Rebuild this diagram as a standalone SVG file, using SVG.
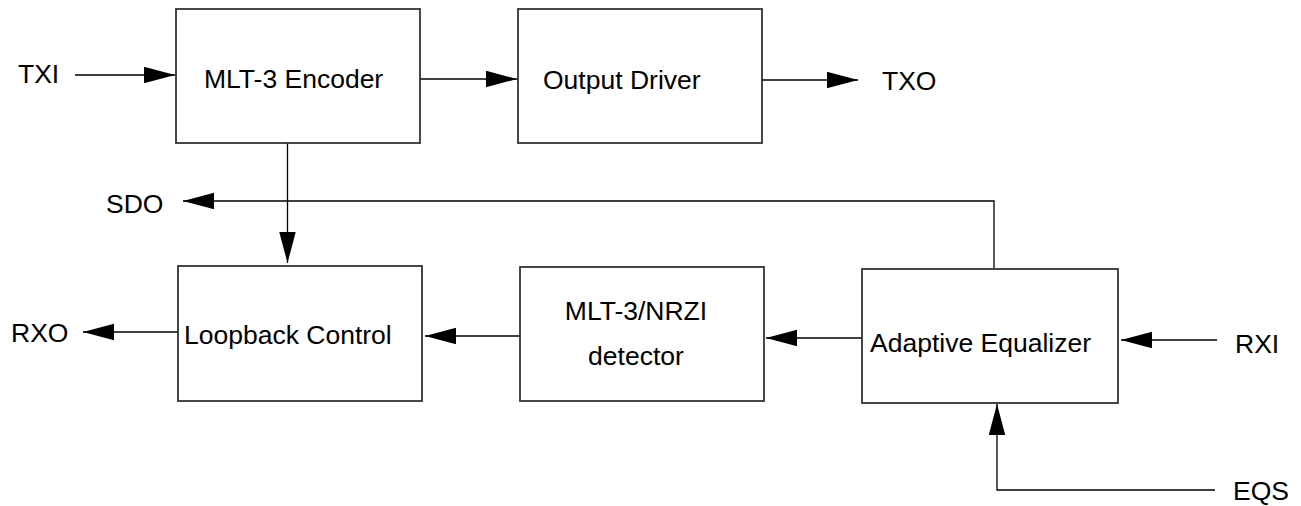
<svg xmlns="http://www.w3.org/2000/svg" width="1301" height="506" viewBox="0 0 1301 506">
<style>
.box{fill:#fff;stroke:#333;stroke-width:1.8}
.t{font-family:"Liberation Sans",Arial,sans-serif;font-size:26.5px;fill:#000}
.c{fill:none;stroke:#000;stroke-width:1.3}
</style>
<defs>
<marker id="ah" markerUnits="userSpaceOnUse" markerWidth="32" markerHeight="17" refX="31" refY="8.25" orient="auto">
<path d="M0,0 L31,8.25 L0,16.5 z" fill="#000"/>
</marker>
</defs>
<rect width="1301" height="506" fill="#fff"/>
<g id="connectors">
<line class="c" x1="75" y1="75" x2="175" y2="75" marker-end="url(#ah)"/>
<line class="c" x1="420" y1="79" x2="517" y2="79" marker-end="url(#ah)"/>
<line class="c" x1="762" y1="80" x2="858" y2="80" marker-end="url(#ah)"/>
<line class="c" x1="287.5" y1="143" x2="287.5" y2="263" marker-end="url(#ah)"/>
<polyline class="c" points="994,269 994,201 183,201" marker-end="url(#ah)"/>
<line class="c" x1="862" y1="338" x2="766" y2="338" marker-end="url(#ah)"/>
<line class="c" x1="520" y1="336" x2="425" y2="336" marker-end="url(#ah)"/>
<line class="c" x1="178" y1="332" x2="83" y2="332" marker-end="url(#ah)"/>
<line class="c" x1="1217" y1="340" x2="1121" y2="340" marker-end="url(#ah)"/>
<polyline class="c" points="1215,490 997,490 997,404" marker-end="url(#ah)"/>
</g>
<g id="encoder"><rect class="box" x="176" y="9" width="244" height="134"/><text class="t" x="204" y="88">MLT-3 Encoder</text></g>
<g id="driver"><rect class="box" x="518" y="9" width="244" height="134"/><text class="t" x="543" y="89">Output Driver</text></g>
<g id="loopback"><rect class="box" x="178" y="266" width="244" height="135"/><text class="t" x="184" y="344">Loopback Control</text></g>
<g id="detector"><rect class="box" x="520" y="267" width="244" height="134"/><text class="t" x="636" y="320" text-anchor="middle">MLT-3/NRZI</text><text class="t" x="636" y="365" text-anchor="middle">detector</text></g>
<g id="equalizer"><rect class="box" x="862" y="269" width="256" height="134"/><text class="t" x="870" y="352">Adaptive Equalizer</text></g>
<g id="labels">
<text class="t" x="18" y="83">TXI</text>
<text class="t" x="882" y="90">TXO</text>
<text class="t" x="106" y="213">SDO</text>
<text class="t" x="11" y="342">RXO</text>
<text class="t" x="1235" y="353">RXI</text>
<text class="t" x="1233" y="500">EQS</text>
</g>
</svg>
